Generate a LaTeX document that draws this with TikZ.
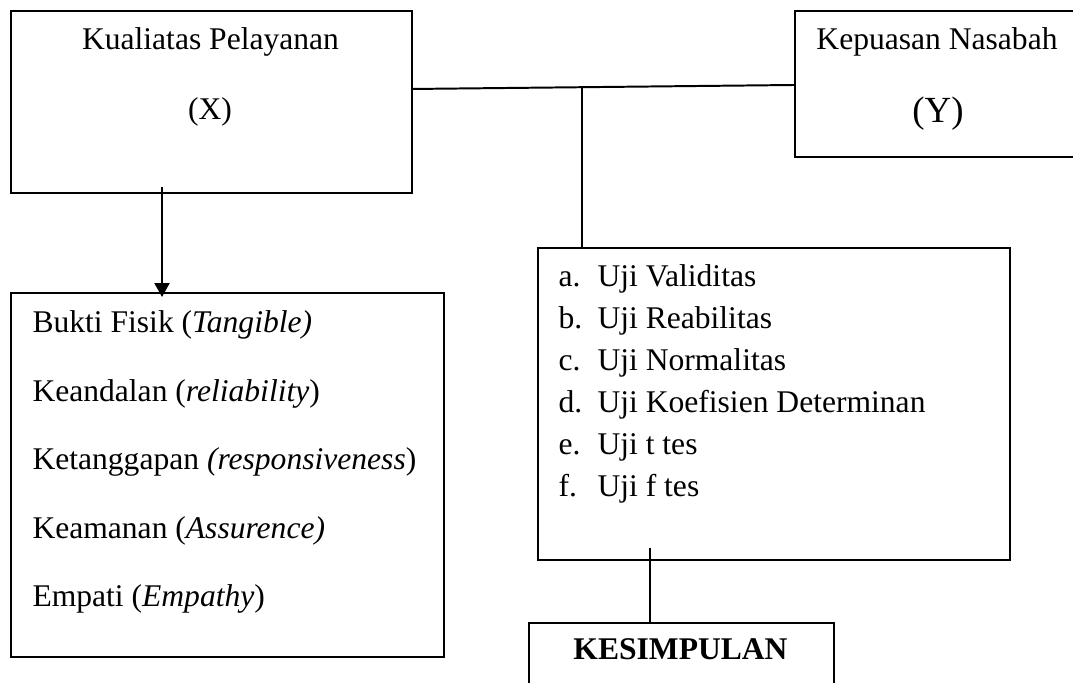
\documentclass[tikz,border=0pt]{standalone}
\usepackage{fontspec}
\setmainfont{Liberation Serif}
\usetikzlibrary{arrows.meta}
\begin{document}
\begin{tikzpicture}[x=0.38pt, y=-0.38pt,
    box/.style={draw, line width=0.75pt, inner sep=0pt, anchor=north west},
    txt/.style={inner sep=0pt, anchor=base, font=\fontsize{12}{14}\selectfont},
    item/.style={txt, anchor=base west},
    link/.style={line width=0.75pt}]
  \clip (0,0) rectangle (1073,683);
  \node[box, minimum width=401*0.38pt, minimum height=182*0.38pt] (X) at (10,10) {};
  \node[box, minimum width=286*0.38pt, minimum height=146*0.38pt] (Y) at (794,10) {};
  \node[box, minimum width=433*0.38pt, minimum height=364*0.38pt] (B) at (10,292) {};
  \node[box, minimum width=472*0.38pt, minimum height=312*0.38pt] (U) at (537,247) {};
  \node[box, minimum width=305*0.38pt, minimum height=90*0.38pt] (K) at (528,622) {};
  \node[txt] (xt) at (210.5,50) {Kualiatas Pelayanan};
  \node[txt] (xv) at (210,120) {(X)};
  \node[txt] (yt) at (937,50) {Kepuasan Nasabah};
  \node[txt, font=\fontsize{14}{16}\selectfont] (yv) at (938,123) {(Y)};
  \node[txt] (kt) at (680.5,660) {\textbf{KESIMPULAN}};
  \foreach \t [count=\i from 0] in {Bukti Fisik (\textit{Tangible)},
      Keandalan (\textit{reliability}), Ketanggapan \textit{(responsiveness}),
      Keamanan (\textit{Assurence)}, Empati (\textit{Empathy})}
    \node[item] (b\i) at (32,{333+68.5*\i}) {\t};
  \foreach \l/\t [count=\i from 0] in {a/Uji Validitas, b/Uji Reabilitas,
      c/Uji Normalitas, d/Uji Koefisien Determinan, e/Uji t tes, f/Uji f tes} {
    \node[item] (l\l) at (558,{287+42*\i}) {\l.};
    \node[item] (u\l) at (597,{287+42*\i}) {\t};
  }
  \coordinate (xr) at (411,89);
  \coordinate (yl) at (794,85);
  \coordinate (jm) at (582,88);
  \coordinate (a0) at (162,187);
  \coordinate (a1) at (162,297);
  \coordinate (u0) at (650,548);
  \draw[link] (xr) -- (yl);
  \draw[link] (jm) -- (jm |- U.north);
  \draw[link, -{Triangle[width=5.7pt, length=5.3pt]}] (a0) -- (a1);
  \draw[link] (u0) -- (u0 |- K.north);
\end{tikzpicture}
\end{document}
